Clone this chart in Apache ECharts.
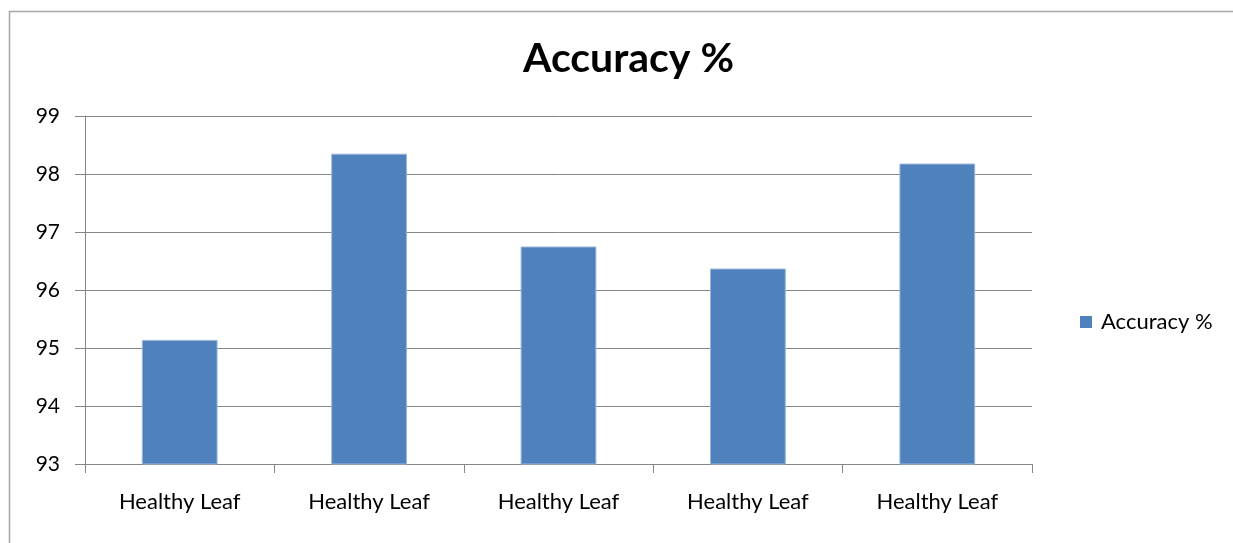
<!DOCTYPE html>
<html>
<head>
<meta charset="utf-8">
<script src="https://cdn.jsdelivr.net/npm/echarts@6/dist/echarts.min.js"></script>
<style>
  html, body { margin: 0; padding: 0; background: #fff; }
  #chart { width: 1233px; height: 543px; }
</style>
</head>
<body>
<div id="chart"></div>
<script>
const categories = ['Healthy Leaf', 'Healthy Leaf', 'Healthy Leaf', 'Healthy Leaf', 'Healthy Leaf']
const accuracy = [95.14, 98.35, 96.75, 96.37, 98.18]
const seriesName = 'Accuracy %'

const font = 'Lato, "Open Sans", sans-serif'

let chart = echarts.init(document.getElementById('chart'))
chart.setOption({
    animation: false,
    graphic: [{
        type: 'rect',
        shape: { x: 9.5, y: 11.5, width: 1300, height: 600 },
        style: { fill: 'none', stroke: '#a6a6a6', lineWidth: 1.5 },
        silent: true
    }],
    title: {
        text: 'Accuracy %',
        left: 518,
        top: 33,
        textStyle: { fontFamily: font, fontSize: 41, fontWeight: 'bold', color: '#000' }
    },
    legend: {
        data: [seriesName],
        orient: 'vertical',
        left: 1075,
        top: 306,
        icon: 'rect',
        itemWidth: 12,
        itemHeight: 12,
        itemStyle: { borderWidth: 0 },
        textStyle: { fontFamily: font, fontSize: 22, color: '#000', padding: [0, 0, 0, 4] }
    },
    grid: {
        left: 85,
        right: 201,
        top: 116,
        bottom: 79
    },
    xAxis: {
        type: 'category',
        data: categories,
        axisTick: { show: true, length: 9, lineStyle: { color: '#868686' } },
        axisLine: { show: true, lineStyle: { color: '#868686', width: 1 } },
        axisLabel: { fontFamily: font, fontSize: 22, color: '#000', margin: 27 }
    },
    yAxis: {
        type: 'value',
        min: 93,
        max: 99,
        interval: 1,
        axisTick: { show: true, length: 10, lineStyle: { color: '#868686' } },
        axisLine: { show: true, lineStyle: { color: '#868686', width: 1 } },
        axisLabel: { fontFamily: font, fontSize: 21, color: '#000', margin: 25 },
        splitLine: { lineStyle: { color: '#868686', width: 1 } }
    },
    series: [{
        name: seriesName,
        type: 'bar',
        data: accuracy,
        barWidth: '40%',
        itemStyle: { color: '#4f81bd', borderColor: '#9bb6da', borderWidth: 1 }
    }]
})
</script>
</body>
</html>
